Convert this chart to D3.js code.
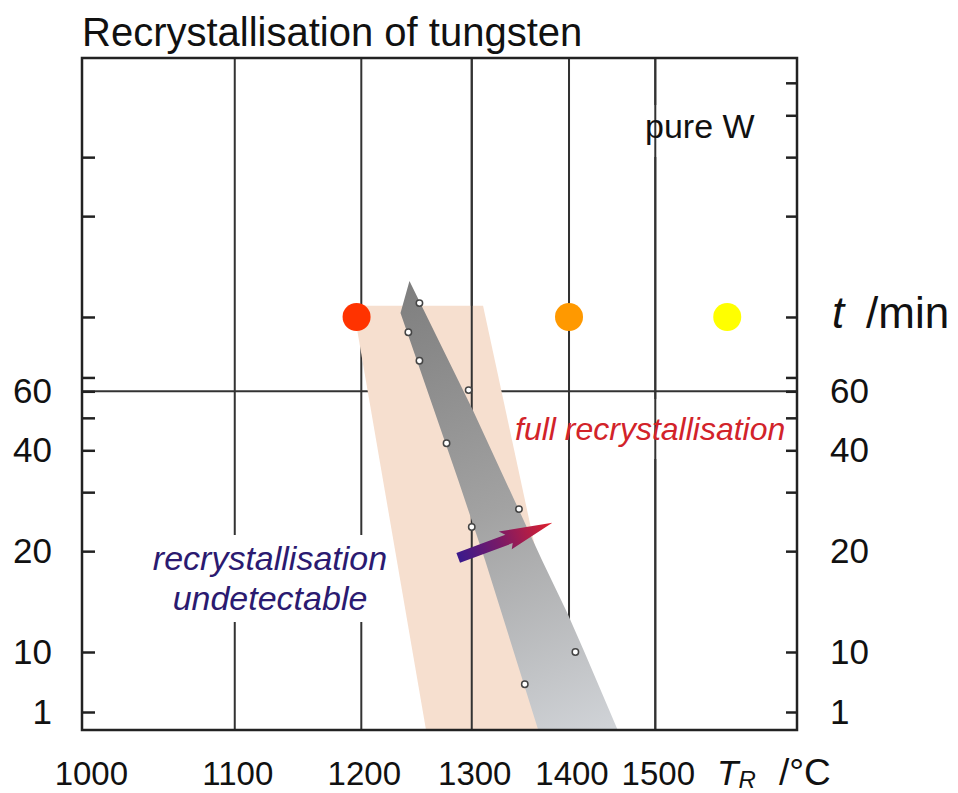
<!DOCTYPE html>
<html>
<head>
<meta charset="utf-8">
<script src="https://cdn.jsdelivr.net/npm/d3@7"></script>
<style>
  body { margin: 0; background: #fff; }
  svg text { font-family: "Liberation Sans", Arial, sans-serif; }
</style>
</head>
<body>
<div id="chart"></div>
<script>
// Data (temperature in °C, time in min)
const gridTemps = [1100, 1200, 1300, 1400, 1500];
const tempLabels = [1000, 1100, 1200, 1300, 1400, 1500];
const leftTicks = [1, 10, 20, 30, 40, 50, 60, 66, 100, 200, 300];
const rightTicks = [1, 10, 20, 30, 40, 50, 60, 66, 100, 200, 300, 400, 500];
const labelTicks = [1, 10, 20, 40, 60];

// measured points
const pointTemps = [1251, 1241, 1251, 1297, 1276, 1347, 1300, 1407, 1353];
const pointTimes = [110, 90, 74, 60.5, 42, 26.7, 23.6, 10, 2.9];

// coloured markers on the t /min row
const markerTemps = [1196, 1400, 1593];
const markerTime = 100;
const markerColors = ["#ff3300", "#ff9900", "#ffff00"];

// scatter band (peach) and fitted wedge (grey) outlines
const bandTemps = [1193, 1311, 1406, 1257];
const bandTimes = [108, 108, 0.5, 0.5];
const wedgeTemps = [1242, 1301, 1371, 1398, 1417, 1455, 1367, 1313, 1287, 1234];
const wedgeTimes = [128, 52.8, 18.8, 13.1, 10, 0.5, 0.5, 18.8, 32.6, 102.8];

// arrow from "undetectable" towards "full recrystallisation"
const arrowTemps = [1287, 1382];
const arrowTimes = [19.1, 24.3];

const margin = { top: 58, right: 161, bottom: 63, left: 82 };
const width = 958 - margin.left - margin.right;
const height = 793 - margin.top - margin.bottom;

const svgRoot = d3.select("#chart")
  .append("svg")
  .attr("width", 958)
  .attr("height", 793);

const svg = svgRoot.append("g")
  .attr("transform", `translate(${margin.left},${margin.top})`);

// x axis is reciprocal absolute temperature
const K = 273.15;
const xInv = d3.scaleLinear()
  .domain([1 / (996 + K), 1 / (1693 + K)])
  .range([0, width]);
const x = T => xInv(1 / (T + K));

// log time axis, broken below 10 min
const y = d3.scaleLog()
  .domain([0.5, 1, 10, 593])
  .range([height, height - 18, height - 78, 0]);

const defs = svgRoot.append("defs");

const gGrad = defs.append("linearGradient")
  .attr("id", "wedgeGrad")
  .attr("gradientUnits", "userSpaceOnUse")
  .attr("x1", x(1240)).attr("y1", y(128))
  .attr("x2", x(1440)).attr("y2", y(0.5));
gGrad.append("stop").attr("offset", "0%").attr("stop-color", "#7e7e7e");
gGrad.append("stop").attr("offset", "50%").attr("stop-color", "#a2a2a2");
gGrad.append("stop").attr("offset", "100%").attr("stop-color", "#d0d3d7");

const aGrad = defs.append("linearGradient")
  .attr("id", "arrowGrad")
  .attr("gradientUnits", "userSpaceOnUse")
  .attr("x1", x(arrowTemps[0])).attr("y1", y(arrowTimes[0]))
  .attr("x2", x(arrowTemps[1])).attr("y2", y(arrowTimes[1]));
aGrad.append("stop").attr("offset", "0%").attr("stop-color", "#3a1a8c");
aGrad.append("stop").attr("offset", "45%").attr("stop-color", "#7a1a66");
aGrad.append("stop").attr("offset", "100%").attr("stop-color", "#e0202c");

// layers
const gridLayer = svg.append("g");
const boxLayer = svg.append("g");
const bandLayer = svg.append("g");
const topGrid = svg.append("g");
const wedgeLayer = svg.append("g");
const axisLayer = svg.append("g");
const textLayer = svg.append("g");
const markLayer = svg.append("g");

// 60 min line and the grid lines
gridLayer.append("line")
  .attr("x1", 0).attr("x2", width)
  .attr("y1", y(60)).attr("y2", y(60))
  .attr("stroke", "#333").attr("stroke-width", 2);

function gridLines(layer, vals) {
  layer.selectAll("line.grid")
    .data(vals)
    .enter().append("line")
    .attr("class", "grid")
    .attr("x1", d => x(d)).attr("x2", d => x(d))
    .attr("y1", 0).attr("y2", height)
    .attr("stroke", "#333")
    .attr("stroke-width", 2);
}
gridLines(gridLayer, gridTemps);

// peach band
const polyLine = d3.line().curve(d3.curveLinearClosed);
bandLayer.append("path")
  .attr("d", polyLine(bandTemps.map((t, i) => [x(t), y(bandTimes[i])])))
  .attr("fill", "#f6dfcf");

// upper grid lines sit above the band
gridLines(topGrid, gridTemps.filter(d => d >= 1300));

// grey wedge
wedgeLayer.append("path")
  .attr("d", polyLine(wedgeTemps.map((t, i) => [x(t), y(wedgeTimes[i])])))
  .attr("fill", "url(#wedgeGrad)");

// ticks
const yLeft = axisLayer.append("g")
  .call(d3.axisLeft(y).tickValues(leftTicks).tickSize(-13).tickPadding(30)
    .tickFormat(d => labelTicks.includes(d) ? d : ""));
const yRight = axisLayer.append("g")
  .attr("transform", `translate(${width},0)`)
  .call(d3.axisRight(y).tickValues(rightTicks).tickSize(-11).tickPadding(33)
    .tickFormat(d => labelTicks.includes(d) ? d : ""));
[yLeft, yRight].forEach(ax => {
  ax.select(".domain").remove();
  ax.selectAll(".tick line").attr("stroke", "#222").attr("stroke-width", 2.5);
  ax.selectAll(".tick text")
    .attr("font-size", 35)
    .attr("fill", "#111")
    .attr("font-family", "Liberation Sans, Arial, sans-serif");
});

// frame
axisLayer.append("rect")
  .attr("width", width).attr("height", height)
  .attr("fill", "none")
  .attr("stroke", "#222")
  .attr("stroke-width", 2.5);

// temperature labels
axisLayer.append("g")
  .selectAll("text")
  .data(tempLabels)
  .enter().append("text")
  .attr("x", d => x(d) + 3)
  .attr("y", height + 55)
  .attr("text-anchor", "middle")
  .attr("font-size", 33)
  .attr("fill", "#111")
  .text(d => d);

// text with a white backing that sits under the bands
function boxedText(lines, px, py, opts) {
  const txt = textLayer.append("text")
    .attr("x", px).attr("y", py)
    .attr("text-anchor", opts.anchor || "start")
    .attr("font-size", opts.size)
    .attr("font-style", opts.italic ? "italic" : "normal")
    .attr("fill", opts.color);
  lines.forEach((l, i) => {
    txt.append("tspan").attr("x", px).attr("dy", i === 0 ? 0 : opts.lh).text(l);
  });
  const bb = txt.node().getBBox();
  const p = opts.pad;
  boxLayer.append("rect")
    .attr("x", bb.x - p[3]).attr("y", bb.y - p[0])
    .attr("width", bb.width + p[1] + p[3])
    .attr("height", bb.height + p[0] + p[2])
    .attr("fill", "#fff");
}

boxedText(["pure W"], 563, 80, { size: 34, color: "#111", pad: [2, 6, 12, 6] });
boxedText(["full recrystallisation"], 433, 382,
  { size: 32, italic: true, color: "#d2232a", pad: [12, 4, 12, 8] });
boxedText(["recrystallisation", "undetectable"], 188, 512,
  { size: 34, italic: true, color: "#2b1a70", anchor: "middle", lh: 40, pad: [4, 8, 5, 8] });

// markers
markLayer.append("g")
  .selectAll("circle")
  .data(markerTemps)
  .enter().append("circle")
  .attr("cx", d => x(d))
  .attr("cy", y(markerTime))
  .attr("r", 14)
  .attr("fill", (d, i) => markerColors[i]);

// measured points
markLayer.append("g")
  .selectAll("circle")
  .data(pointTemps)
  .enter().append("circle")
  .attr("cx", d => x(d))
  .attr("cy", (d, i) => y(pointTimes[i]))
  .attr("r", 3.2)
  .attr("fill", "#fff")
  .attr("stroke", "#444")
  .attr("stroke-width", 1.5);

// block arrow
const p0 = [x(arrowTemps[0]), y(arrowTimes[0])];
const p1 = [x(arrowTemps[1]), y(arrowTimes[1])];
const len = Math.hypot(p1[0] - p0[0], p1[1] - p0[1]);
const u = [(p1[0] - p0[0]) / len, (p1[1] - p0[1]) / len];
const n = [-u[1], u[0]];
const at = (s, w) => [p0[0] + u[0] * s + n[0] * w, p0[1] + u[1] * s + n[1] * w];
const neck = len * 0.5;
markLayer.append("path")
  .attr("d", polyLine([
    at(0, -5.2), at(neck + 2, -5.2), at(neck - 3, -10.5), at(len, 0),
    at(neck + 3, 10.5), at(neck + 6, 5.2), at(0, 5.2)
  ]))
  .attr("fill", "url(#arrowGrad)");

// title and axis names
svgRoot.append("text")
  .attr("x", 82).attr("y", 46)
  .attr("font-size", 40)
  .attr("fill", "#111")
  .text("Recrystallisation of tungsten");

const tLab = svgRoot.append("text")
  .attr("x", 832).attr("y", 328)
  .attr("font-size", 44)
  .attr("fill", "#111");
tLab.append("tspan").attr("font-style", "italic").text("t");
tLab.append("tspan").attr("x", 866).text("/min");

const TLab = svgRoot.append("text")
  .attr("x", 717).attr("y", 785)
  .attr("font-size", 35)
  .attr("fill", "#111");
TLab.append("tspan").attr("font-style", "italic").text("T");
TLab.append("tspan").attr("font-style", "italic").attr("font-size", 24).attr("dy", 3).text("R");
TLab.append("tspan").attr("x", 779).attr("dy", -3).attr("font-size", 37).text("/°C");
</script>
</body>
</html>
